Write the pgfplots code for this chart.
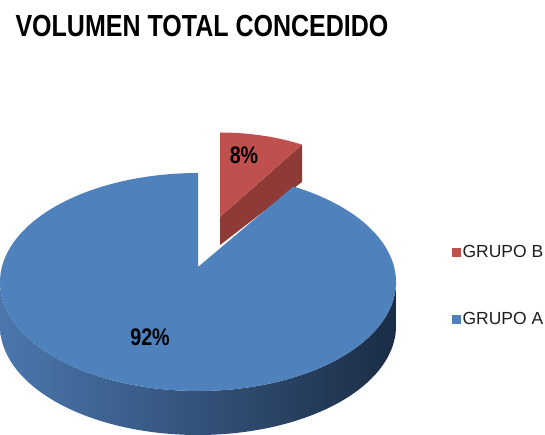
\documentclass[border=0pt]{standalone}
\usepackage{fontspec}
\setmainfont{Liberation Sans}
\newfontfamily\narrowfont[FakeStretch=0.82]{Liberation Sans}
\usepackage{pgfplots}
\usepackage{pgfplotstable}
\pgfplotsset{compat=1.18}
\definecolor{blueTop}{HTML}{4F81BD}
\definecolor{redTop}{HTML}{C0504D}
\definecolor{redSide}{HTML}{8E3A37}
\definecolor{blueL}{HTML}{4B77AE}
\definecolor{blueM}{HTML}{30507A}
\definecolor{blueR}{HTML}{1B2D45}
\definecolor{legtext}{HTML}{1E1E1E}

\pgfplotstableread{
grupo valor
B 8
A 92
}\datatable

\begin{document}
\begin{tikzpicture}
\pgfplotstablegetelem{0}{valor}\of\datatable \let\vB\pgfplotsretval
\pgfplotstablegetelem{1}{valor}\of\datatable \let\vA\pgfplotsretval
\pgfmathsetmacro\angB{90-3.6*\vB}
\pgfmathsetmacro\angA{90+3.6*\vA}
\begin{axis}[
  x=1pt, y=1pt, xmin=0, xmax=545, ymin=0, ymax=435,
  hide axis, clip=false,
  legend style={at={(axis cs:452,191)}, anchor=north west, draw=none, fill=none,
    font=\fontsize{17.5}{19}\selectfont, text=legtext, row sep=50pt, inner sep=0pt, outer sep=0pt,
    nodes={inner sep=1.5pt}},
  legend cell align=left,
  legend image code/.code={\fill[#1] (0pt,-4.5pt) rectangle (9pt,4.5pt);},
]
% frame for bounding box
\addplot[draw=none, forget plot] coordinates {(0,0) (545,435)};
% red slice (exploded): side face
\addplot[fill=redSide, draw=none, forget plot] coordinates {(220,218) (302,290.4) (302,253) (220,190)} -- cycle;
% red slice: top face
\addplot[fill=redTop, draw=none, domain=\angB:90, samples=20, variable=\t]
  ({220+170*cos(\t)},{204.5+98*sin(\t)}) -- (axis cs:220,218) -- cycle;
\addlegendentry{GRUPO B}
% blue slice: front side
\addplot[draw=none, left color=blueL, middle color=blueM, right color=blueR, forget plot,
  domain=180:540, samples=181, variable=\t]
  ({198+198*cos(\t)},{153-44*(\t>360)-109*abs(sin(\t))}) -- cycle;
% blue slice: top face
\addplot[fill=blueTop, draw=none, domain=90:\angA, samples=160, variable=\t]
  ({198+198*cos(\t)},{153+109*sin(\t)}) -- (axis cs:198,168) -- cycle;
\addlegendentry{GRUPO A}
\node[anchor=base west, font=\narrowfont\bfseries\fontsize{30.5}{32}\selectfont] at (axis cs:12,398) {VOLUMEN TOTAL CONCEDIDO};
\node[font=\narrowfont\bfseries\fontsize{24}{26}\selectfont] at (axis cs:150,98) {92\%};
\node[font=\narrowfont\bfseries\fontsize{24}{26}\selectfont] at (axis cs:244,280) {8\%};
\end{axis}
\end{tikzpicture}
\end{document}
